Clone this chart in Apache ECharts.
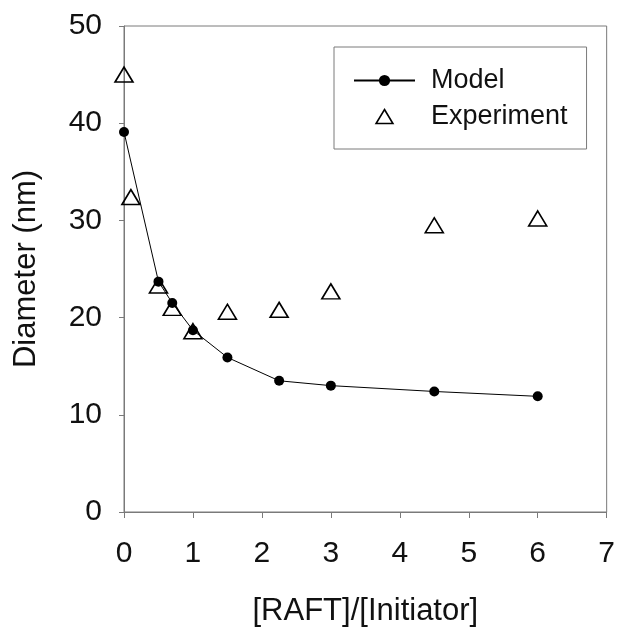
<!DOCTYPE html>
<html>
<head>
<meta charset="utf-8">
<script src="https://cdn.jsdelivr.net/npm/echarts@6/dist/echarts.min.js"></script>
<style>
html,body{margin:0;padding:0;background:#fff;}
#c{width:618px;height:632px;}
</style>
</head>
<body>
<div id="c"></div>
<script>
// Data
var modelX = [0, 0.5, 0.7, 1, 1.5, 2.25, 3, 4.5, 6];
var modelY = [39.1, 23.7, 21.5, 18.7, 15.9, 13.5, 13.0, 12.4, 11.9];
var expX = [0, 0.1, 0.5, 0.7, 1, 1.5, 2.25, 3, 4.5, 6];
var expY = [45.0, 32.4, 23.3, 21.0, 18.6, 20.6, 20.8, 22.7, 29.5, 30.2];
var seriesNames = ['Model', 'Experiment'];
var xTitle = '[RAFT]/[Initiator]';
var yTitle = 'Diameter (nm)';

function pairs(xs, ys) { return xs.map(function (x, i) { return [x, ys[i]]; }); }

var FONT = 'Liberation Sans, Arial, sans-serif';
var AX = '#7a7a7a';
var chart = echarts.init(document.getElementById('c'), null, {renderer: 'canvas'});
chart.setOption({
  backgroundColor: '#fff',
  animation: false,
  grid: {left: 124, right: 7, top: 26, bottom: 118, show: true, borderColor: AX, borderWidth: 1, backgroundColor: 'transparent'},
  legend: {
    orient: 'vertical',
    left: 334, top: 47,
    padding: [20, 19, 19, 19],
    itemGap: 9,
    itemWidth: 61, itemHeight: 14,
    borderColor: AX, borderWidth: 1,
    textStyle: {fontFamily: FONT, fontSize: 27, color: '#111', padding: [0, 0, 0, 11]},
    data: [
      {name: seriesNames[0]},
      {name: seriesNames[1], icon: 'path://M9,0 L18,15 L0,15 Z', itemStyle: {color: 'rgba(0,0,0,0)', borderColor: '#000', borderWidth: 1.6}}
    ]
  },
  xAxis: {
    type: 'value', min: 0, max: 7, interval: 1,
    name: xTitle, nameLocation: 'middle', nameGap: 84,
    nameTextStyle: {fontFamily: FONT, fontSize: 31, color: '#111'},
    axisLine: {show: true, lineStyle: {color: AX, width: 1}},
    axisTick: {show: true, inside: false, length: 6, lineStyle: {color: AX}},
    axisLabel: {fontFamily: FONT, fontSize: 30, color: '#111', margin: 27},
    splitLine: {show: false}
  },
  yAxis: {
    type: 'value', min: 0, max: 50, interval: 10,
    name: yTitle, nameLocation: 'middle', nameGap: 82,
    nameTextStyle: {fontFamily: FONT, fontSize: 31, color: '#111'},
    axisLine: {show: true, lineStyle: {color: AX, width: 1}},
    axisTick: {show: true, inside: false, length: 5, lineStyle: {color: AX}},
    axisLabel: {fontFamily: FONT, fontSize: 30, color: '#111', margin: 22},
    splitLine: {show: false}
  },
  series: [
    {
      name: seriesNames[1], type: 'scatter', clip: false, z: 2,
      symbol: 'triangle', symbolSize: [18, 15],
      itemStyle: {color: 'rgba(0,0,0,0)', borderColor: '#000', borderWidth: 1.6, opacity: 1},
      data: pairs(expX, expY)
    },
    {
      name: seriesNames[0], type: 'line', clip: false, z: 3,
      symbol: 'circle', symbolSize: 10, showAllSymbol: true,
      lineStyle: {color: '#000', width: 1},
      itemStyle: {color: '#000'},
      data: pairs(modelX, modelY)
    }
  ]
});
</script>
</body>
</html>
